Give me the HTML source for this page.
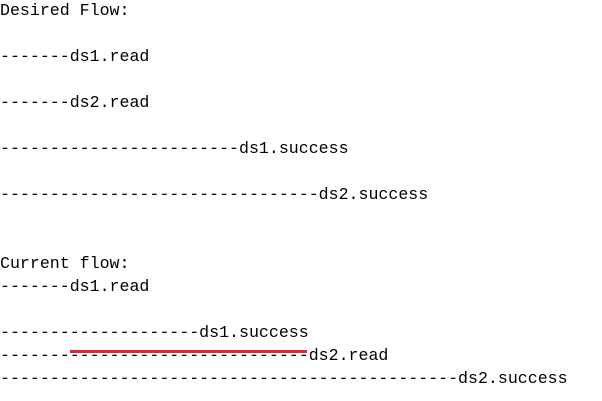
<!DOCTYPE html>
<html><head><style>
html,body{margin:0;padding:0;background:#fff;width:602px;height:401px;overflow:hidden}
pre{margin:0;position:absolute;left:0;top:-1px;font-family:"Liberation Mono",monospace;font-size:16.6px;line-height:23px;color:#000}
.r{position:absolute;left:70px;top:350px;width:237px;height:3px;background:#e0262b}
</style></head><body>
<pre>Desired Flow:

-------ds1.read

-------ds2.read

------------------------ds1.success

--------------------------------ds2.success


Current flow:
-------ds1.read

--------------------ds1.success
-------------------------------ds2.read
----------------------------------------------ds2.success</pre>
<div class="r"></div>
</body></html>
